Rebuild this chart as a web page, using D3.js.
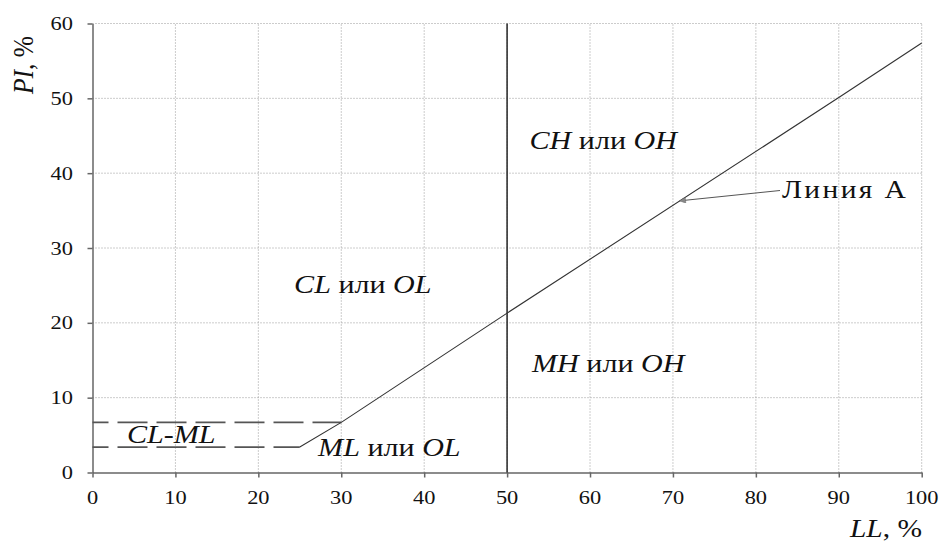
<!DOCTYPE html>
<html>
<head>
<meta charset="utf-8">
<script src="https://cdn.jsdelivr.net/npm/d3@7"></script>
<style>
  html, body { margin: 0; padding: 0; background: #fff; }
  svg { display: block; }
  text { font-family: "Liberation Serif", "Times New Roman", serif; fill: #111; }
  .grid line { stroke: #999; stroke-width: 1; stroke-dasharray: 1,2; }
  .axis path, .axis line { stroke: #666; stroke-width: 1.5; }
</style>
</head>
<body>
<svg id="chart" width="939" height="542"></svg>
<script>
  // ticks
  const llTicks = [0, 10, 20, 30, 40, 50, 60, 70, 80, 90, 100]
  const piTicks = [0, 10, 20, 30, 40, 50, 60]

  // "Линия А" (LL, PI)
  const aLine = [[25, 3.4], [30, 6.7], [50, 21.3], [90, 50.1], [100, 57.4]]
  // CL-ML band boundaries: [PI, LL end]
  const bandLines = [[6.7, 30], [3.4, 25]]
  const boundaryLL = 50

  // zone labels: [LL centre, PI baseline, parts]
  const zones = [
    [61.6, 43.2, [['CH', 1], [' или ', 0], ['OH', 1]]],
    [32.6, 24.0, [['CL', 1], [' или ', 0], ['OL', 1]]],
    [62.2, 13.4, [['MH', 1], [' или ', 0], ['OH', 1]]],
    [35.8, 2.2, [['ML', 1], [' или ', 0], ['OL', 1]]],
    [9.5, 3.9, [['CL-ML', 1]]]
  ]

  const sx = 1.18 // the source picture is stretched sideways

  const svg = d3.select('#chart')
  const x = d3.scaleLinear().domain([0, 100]).range([92.5, 921.7])
  const y = d3.scaleLinear().domain([0, 60]).range([472.5, 23.5])

  // grid
  const grid = svg.append('g').attr('class', 'grid')
  grid.selectAll('line.v').data(llTicks.filter(d => d > 0)).join('line')
    .attr('class', 'v')
    .attr('x1', d => x(d)).attr('x2', d => x(d))
    .attr('y1', y(0)).attr('y2', y(60))
  grid.selectAll('line.h').data(piTicks.filter(d => d > 0)).join('line')
    .attr('class', 'h')
    .attr('x1', x(0)).attr('x2', x(100))
    .attr('y1', d => y(d)).attr('y2', d => y(d))

  // axes
  const xAxis = svg.append('g').attr('class', 'axis')
    .attr('transform', `translate(0,${y(0)})`)
    .call(d3.axisBottom(x).tickValues(llTicks).tickSize(5).tickSizeOuter(0).tickPadding(2))
  xAxis.selectAll('text').remove()
  const yAxis = svg.append('g').attr('class', 'axis')
    .attr('transform', `translate(${x(0)},0)`)
    .call(d3.axisLeft(y).tickValues(piTicks).tickSize(5).tickSizeOuter(0))
  yAxis.selectAll('text').remove()

  svg.append('g').selectAll('text').data(llTicks).join('text')
    .attr('transform', d => `translate(${x(d)},504) scale(${sx},1)`)
    .attr('text-anchor', 'middle')
    .style('font-size', '19px')
    .text(d => d)
  svg.append('g').selectAll('text').data(piTicks).join('text')
    .attr('transform', d => `translate(73,${y(d) + 6.5}) scale(${sx},1)`)
    .attr('text-anchor', 'end')
    .style('font-size', '19px')
    .text(d => d)

  // LL = 50 boundary
  svg.append('line')
    .attr('x1', x(boundaryLL)).attr('x2', x(boundaryLL))
    .attr('y1', y(0)).attr('y2', y(60))
    .attr('stroke', '#333').attr('stroke-width', 1.6)

  // CL-ML band
  svg.append('g').selectAll('line').data(bandLines).join('line')
    .attr('x1', x(0)).attr('x2', d => x(d[1]))
    .attr('y1', d => y(d[0])).attr('y2', d => y(d[0]))
    .attr('stroke', '#555').attr('stroke-width', 1.7)
    .attr('stroke-dasharray', '30,9').attr('stroke-dashoffset', 14)

  // A-line
  svg.append('path')
    .datum(aLine)
    .attr('d', d3.line().x(d => x(d[0])).y(d => y(d[1])))
    .attr('fill', 'none').attr('stroke', '#333').attr('stroke-width', 1.1)

  // zone labels
  zones.forEach(([ll, pi, parts]) => {
    const t = svg.append('text')
      .attr('transform', `translate(${x(ll)},${y(pi)}) scale(${sx},1)`)
      .attr('text-anchor', 'middle')
      .style('font-size', '25.5px')
    parts.forEach(([s, it]) => t.append('tspan').style('font-style', it ? 'italic' : 'normal').text(s))
  })

  // "Линия А" callout
  svg.append('defs').append('marker')
    .attr('id', 'arr').attr('viewBox', '0 0 10 10')
    .attr('refX', 10).attr('refY', 5)
    .attr('markerWidth', 9).attr('markerHeight', 6)
    .attr('orient', 'auto')
    .append('path').attr('d', 'M0,0 L10,5 L0,10 Z')
    .attr('fill', '#888').attr('stroke', '#555').attr('stroke-width', 0.6)
  svg.append('line')
    .attr('x1', 780).attr('y1', 190.5)
    .attr('x2', x(70.8)).attr('y2', y(36.3))
    .attr('stroke', '#555').attr('stroke-width', 1)
    .attr('marker-end', 'url(#arr)')
  svg.append('text')
    .attr('transform', `translate(782,198) scale(${sx},1)`)
    .style('font-size', '25px').style('letter-spacing', '2px')
    .text('Линия А')

  // axis titles
  const xt = svg.append('text')
    .attr('transform', `translate(922,537) scale(${sx},1)`)
    .attr('text-anchor', 'end')
    .style('font-size', '25px')
  xt.append('tspan').style('font-style', 'italic').text('LL')
  xt.append('tspan').text(', %')

  const yt = svg.append('text')
    .attr('transform', `translate(33,65) rotate(-90) scale(1,${sx})`)
    .attr('text-anchor', 'middle')
    .style('font-size', '25.5px')
  yt.append('tspan').style('font-style', 'italic').text('PI')
  yt.append('tspan').text(', %')
</script>
</body>
</html>
